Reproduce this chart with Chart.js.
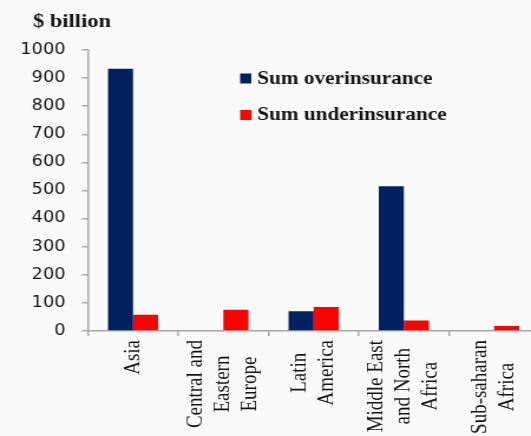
<!DOCTYPE html>
<html>
<head>
<meta charset="utf-8">
<style>
  html, body { margin: 0; padding: 0; overflow: hidden; background: #fafafa; }
  /* the whole figure is drawn a bit narrow and widened here */
  #wrap { width: 470px; height: 436px; transform: scaleX(1.18); transform-origin: 0 0; }
</style>
<script src="https://cdn.jsdelivr.net/npm/chart.js@4.4.0/dist/chart.umd.min.js"></script>
</head>
<body>
<div id="wrap"><canvas id="chart" width="470" height="436"></canvas></div>
<script>
const regions = [
  ["Asia"],
  ["Central and", "Eastern", "Europe"],
  ["Latin", "America"],
  ["Middle East", "and North", "Africa"],
  ["Sub-saharan", "Africa"],
];
const overinsurance = [933, 0, 70, 515, 0];
const underinsurance = [58, 76, 85, 37, 18];
const seriesNames = ["Sum overinsurance", "Sum underinsurance"];
const seriesColors = ["#002060", "#ff0000"];
const yMin = 0;
const yMax = 1000;
const yStep = 100;
const unitLabel = "$ billion";

const axisColor = "#a8a8a8";
const textColor = "#141414";
const serif = "'Liberation Serif', 'Times New Roman', serif";

// unit label, rotated category names and the in-plot legend
const extraText = {
  id: "extraText",
  afterDraw(chart) {
    const ctx = chart.ctx;
    const xs = chart.scales.x;
    const area = chart.chartArea;
    ctx.save();
    ctx.textAlign = "left";
    ctx.textBaseline = "alphabetic";

    ctx.font = "bold 18px " + serif;
    chart.data.datasets.forEach((ds, i) => {
      const y = 73.5 + i * 36.5;
      ctx.fillStyle = ds.backgroundColor;
      ctx.fillRect(203.5, y, 9.5, 10);
      ctx.fillStyle = textColor;
      ctx.fillText(ds.label, 218, y + 10);
    });

    ctx.font = "bold 19px " + serif;
    ctx.fillText(unitLabel, 28, 27);

    ctx.font = "19px " + serif;
    regions.forEach((lines, i) => {
      const cx = xs.getPixelForValue(i);
      const w = Math.max(...lines.map((l) => ctx.measureText(l).width));
      const cy = area.bottom + 9 + w / 2;
      ctx.save();
      ctx.translate(cx, cy);
      ctx.rotate(-Math.PI / 2);
      ctx.textAlign = "center";
      ctx.textBaseline = "middle";
      lines.forEach((l, j) => {
        ctx.fillText(l, 0, (j - (lines.length - 1) / 2) * 23);
      });
      ctx.restore();
    });
    ctx.restore();
  },
};

function drawChart() {
  new Chart(document.getElementById("chart"), {
    type: "bar",
    data: {
      labels: regions,
      datasets: [
        {
          label: seriesNames[0],
          data: overinsurance,
          backgroundColor: seriesColors[0],
          categoryPercentage: 0.555,
          barPercentage: 1,
        },
        {
          label: seriesNames[1],
          data: underinsurance,
          backgroundColor: seriesColors[1],
          categoryPercentage: 0.555,
          barPercentage: 1,
        },
      ],
    },
    options: {
      responsive: false,
      animation: false,
      layout: { padding: { top: 50, right: 13, left: 0, bottom: 0 } },
      plugins: {
        legend: { display: false },
        tooltip: { enabled: false },
      },
      scales: {
        x: {
          offset: true,
          grid: {
            offset: true,
            drawOnChartArea: false,
            drawTicks: true,
            tickLength: 5,
            color: axisColor,
            lineWidth: 1.5,
          },
          border: { color: axisColor, width: 1.5 },
          ticks: { display: false },
          afterFit(scale) {
            scale.height = 105;
          },
        },
        y: {
          min: yMin,
          max: yMax,
          grid: {
            drawOnChartArea: false,
            drawTicks: true,
            tickLength: 5,
            color: axisColor,
            lineWidth: 1.5,
          },
          border: { color: axisColor, width: 1.5 },
          ticks: {
            stepSize: yStep,
            padding: 14,
            color: textColor,
            font: { family: "DejaVu Sans", size: 15 },
            callback: (v) => String(v),
          },
          afterFit(scale) {
            scale.width = 74.5;
          },
        },
      },
    },
    plugins: [extraText],
  });
}

Promise.all([
  document.fonts.load("bold 19px 'Liberation Serif'"),
  document.fonts.load("19px 'Liberation Serif'"),
  document.fonts.load("15px 'DejaVu Sans'"),
]).then(drawChart, drawChart);
</script>
</body>
</html>
